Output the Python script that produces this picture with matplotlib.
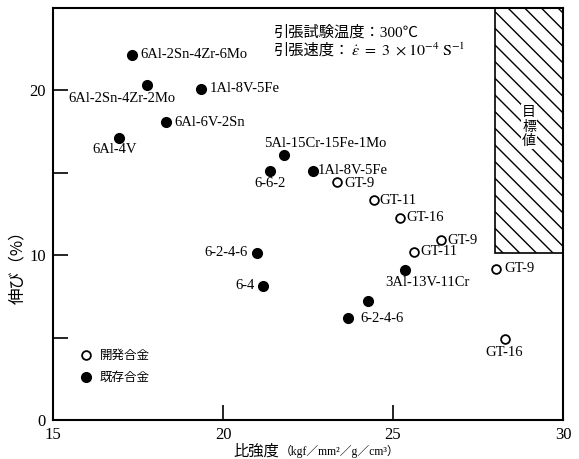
import matplotlib
matplotlib.use('Agg')
import matplotlib.pyplot as plt
from matplotlib.lines import Line2D
from matplotlib.patches import Rectangle

plt.rcParams['font.family'] = ['Liberation Serif', 'Noto Sans CJK JP', 'DejaVu Sans']
plt.rcParams['mathtext.fontset'] = 'stix'
plt.rcParams['hatch.linewidth'] = 1.0

# 開発合金 (open circles)
dev_x = [23.35, 24.43, 25.20, 26.42, 25.61, 28.04, 28.28]
dev_y = [14.44, 13.33, 12.26, 10.90, 10.20, 9.19, 4.89]
dev_names = ['GT-9', 'GT-11', 'GT-16', 'GT-9', 'GT-11', 'GT-9', 'GT-16']

# 既存合金 (filled circles)
old_x = [17.32, 17.76, 19.34, 18.32, 16.93, 21.78, 21.38, 22.65, 20.99, 21.19, 25.35, 24.25, 23.68]
old_y = [22.16, 20.30, 20.10, 18.08, 17.13, 16.10, 15.10, 15.10, 10.14, 8.14, 9.13, 7.20, 6.16]
old_names = ['6Al-2Sn-4Zr-6Mo', '6Al-2Sn-4Zr-2Mo', '1Al-8V-5Fe', '6Al-6V-2Sn', '6Al-4V',
             '5Al-15Cr-15Fe-1Mo', '6-6-2', '1Al-8V-5Fe', '6-2-4-6', '6-4', '3Al-13V-11Cr',
             '', '6-2-4-6']

# 目標値 region
target_x0, target_x1 = 28.0, 30.0
target_y0 = 10.15

# label placement: (dx px, dy px, ha)
dev_offsets = [(7, -1, 'left'), (6, 0, 'left'), (7, 0, 'left'), (6, 0, 'left'),
               (7, 0, 'left'), (8, 0, 'left'), (0, -13, 'center')]
old_offsets = [(8, 0, 'left'), (-25, -13, 'center'), (9, 0, 'left'), (8, 0, 'left'),
               (-4, -12, 'center'), (42, 11, 'center'), (0, -12.5, 'center'), (5, 1, 'left'),
               (-9, 0, 'right'), (-9, 0, 'right'), (23, -13, 'center'), (0, 0, 'left'),
               (12, 0, 'left')]

fig = plt.figure(figsize=(5.79, 4.59), dpi=100)
ax = fig.add_axes([53 / 579, 39 / 459, 510 / 579, 412 / 459])

ax.add_patch(Rectangle((target_x0, target_y0), target_x1 - target_x0, 25 - target_y0,
                       facecolor='white', edgecolor='black', hatch='\\\\', lw=1.2, zorder=1))
ax.text((target_x0 + target_x1) / 2, 17.8, '目\n標\n値', ha='center', va='center',
        fontsize=10, family=['Noto Sans CJK JP'], linespacing=1.05,
        bbox=dict(facecolor='white', edgecolor='none', pad=0.5), zorder=2)

ax.plot(dev_x, dev_y, 'o', ms=6.3, mfc='white', mec='black', mew=1.3, ls='none', zorder=3)
ax.plot(old_x, old_y, 'o', ms=7.0, mfc='black', mec='black', ls='none', zorder=3)

for x, y, name, (dx, dy, ha) in zip(dev_x, dev_y, dev_names, dev_offsets):
    ax.annotate(name, (x, y), xytext=(dx, dy), textcoords='offset pixels',
                ha=ha, va='center', fontsize=10.5)
for x, y, name, (dx, dy, ha) in zip(old_x, old_y, old_names, old_offsets):
    if name:
        ax.annotate(name, (x, y), xytext=(dx, dy), textcoords='offset pixels',
                    ha=ha, va='center', fontsize=10.5)

ax.text(21.49, 23.5, '引張試験温度：300℃', fontsize=11, va='center', ha='left')
t2 = ax.text(21.49, 22.4, '引張速度：', fontsize=11, va='center', ha='left')
ax.annotate(r'$\dot{\varepsilon}\ =\ 3\ \times 10^{-4}\ \mathrm{S}^{-1}$', xy=(1, 0.5),
            xycoords=t2, xytext=(1, 0), textcoords='offset pixels',
            ha='left', va='center', fontsize=11.5)

handles = [Line2D([], [], marker='o', ls='none', ms=6.3, mfc='white', mec='black', mew=1.3),
           Line2D([], [], marker='o', ls='none', ms=7.0, mfc='black', mec='black')]
ax.legend(handles, ['開発合金', '既存合金'], loc='upper left', bbox_to_anchor=(0.0525, 0.172),
          frameon=False, borderaxespad=0, borderpad=0, handlelength=1.0, handletextpad=0.6,
          labelspacing=0.72, prop={'family': ['Noto Sans CJK JP'], 'size': 9})

ax.set_xlim(15, 30)
ax.set_ylim(0, 25)
ax.set_xticks([15, 20, 25, 30])
ax.set_yticks([0, 5, 10, 15, 20])
ax.set_yticklabels(['0', '', '10', '', '20'])
ax.tick_params(direction='in', length=11, width=1.2, labelsize=12, pad=5)
for s in ax.spines.values():
    s.set_linewidth(1.5)

ax.set_xlabel('比強度', fontsize=11, family=['Noto Sans CJK JP'])
ax.xaxis.set_label_coords(0.398, -0.055)
xl = ax.xaxis.label
ax.annotate('（kgf／mm²／g／cm³）', xy=(1, 0.5), xycoords=xl, xytext=(1, 0),
            textcoords='offset pixels', ha='left', va='center', fontsize=8.5)

ax.set_ylabel('伸び（%）', fontsize=12, family=['Noto Sans CJK JP'])
ax.yaxis.set_label_coords(-0.053, 0.381)

fig.savefig('out.png', dpi=100)
